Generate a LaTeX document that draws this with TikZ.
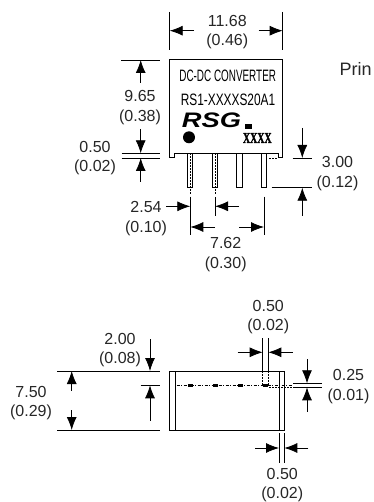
\documentclass[tikz,border=0pt]{standalone}
\usepackage{fontspec}
\usetikzlibrary{arrows.meta}
\setmainfont{Liberation Sans}
\newfontfamily\narrowfont[FakeStretch=0.6]{Liberation Sans}
\newfontfamily\partfont[FakeStretch=0.72]{Liberation Sans}
\newfontfamily\logofont[FakeStretch=1.3]{Liberation Sans}
\newfontfamily\codefont[FakeStretch=0.66,FakeBold=1.5]{Liberation Serif}
\tikzset{
  dimtext/.style={align=center,inner sep=0pt,yshift=-1.5pt,text=black!85,font=\fontsize{16}{19.5}\selectfont},
  dimarrow/.style={-{Latex[length=13pt,width=10pt]},line width=.8pt},
  dimline/.style={line width=.8pt},
  outline/.style={line width=1pt},
  hidden/.style={line width=.6pt,dash pattern=on 1.5pt off 1.5pt},
  padmark/.style={fill=black,inner sep=0pt,minimum width=5pt,minimum height=3pt}
}
\begin{document}
\begin{tikzpicture}[x=1pt,y=-1pt]
\useasboundingbox (0,0) rectangle (373,502);
%% top view, body with notched feet
\draw[outline](169.7,60)--(282.7,60)--(282.7,158)--(278.3,158)--(278.3,153.3)--(174.3,153.3)--(174.3,158)--(169.7,158)--cycle;
%% the pins
\foreach \pinx in {187.6,212.4,236.8,261.4}
  \draw[outline](\pinx,153.3) rectangle (\pinx+5.2,187.7);
\draw[hidden](190.2,153.3)--(190.2,195);
\draw[hidden](215,153.3)--(215,195);
\draw[hidden](269,158)--(277,158);
%% the marking
\node[inner sep=0pt,font=\narrowfont\fontsize{16.5}{16.5}\selectfont] (lineone) at (227.7,75.7) {DC-DC CONVERTER};
\node[inner sep=0pt,font=\partfont\fontsize{16.5}{16.5}\selectfont] (linetwo) at (228,100) {RS1-XXXXS20A1};
\node[inner sep=0pt,font=\logofont\bfseries\itshape\fontsize{21}{21}\selectfont] (logo) at (211.5,120.5) {RSG};
\fill (245,124) rectangle (252,129);
\fill (189,137.3) circle (6);
\node[inner sep=0pt,font=\codefont\bfseries\fontsize{15}{15}\selectfont] (code) at (257.3,138) {XXXX};
\node[inner sep=0pt,anchor=base west,text=black!85,font=\fontsize{18}{18}\selectfont] (prin) at (339.5,75.7) {Prin};
%% width 11.68
\draw[dimline](169.7,12)--(169.7,50);
\draw[dimline](282.7,12)--(282.7,50);
\draw[dimarrow](194,30.7)--(169.7,30.7);
\draw[dimarrow](258.7,30.7)--(282.7,30.7);
\node[dimtext] (topwidth) at (227.3,30.8) {11.68\\(0.46)};
%% height 9.65
\draw[dimline](121,60)--(160,60);
\draw[dimarrow](140.7,83)--(140.7,60);
\node[dimtext] (bodyheight) at (140,106.2) {9.65\\(0.38)};
\draw[dimarrow](140.7,129)--(140.7,153.3);
%% standoff 0.50
\draw[dimline](121.7,153.3)--(160,153.3);
\draw[dimline](121.7,158)--(160,158);
\draw[dimarrow](140.7,181.7)--(140.7,158);
\node[dimtext] (standoff) at (95,156.7) {0.50\\(0.02)};
%% pin length 3.00
\draw[dimline](292.7,158)--(311.7,158);
\draw[dimline](271.7,187.7)--(311.7,187.7);
\draw[dimarrow](302.3,128)--(302.3,158);
\draw[dimarrow](302.3,216)--(302.3,187.7);
\node[dimtext] (pinlength) at (337.5,172) {3.00\\(0.12)};
%% pitch 2.54 and span 7.62
\draw[dimline](190.3,196.7)--(190.3,235);
\draw[dimline](215,197)--(215,216);
\draw[dimline](264,196.7)--(264,235);
\draw[dimarrow](166,206.3)--(190.3,206.3);
\draw[dimarrow](239,206.3)--(215,206.3);
\node[dimtext] (pitch) at (146,217.3) {2.54\\(0.10)};
\draw[dimarrow](215,227)--(190.3,227);
\draw[dimarrow](239.3,227)--(264,227);
\node[dimtext] (span) at (225.7,253) {7.62\\(0.30)};
%% side view
\draw[outline](169.7,371) rectangle (284.3,430);
\draw[outline](175,371)--(175,430);
\draw[outline](279,371)--(279,430);
\draw[line width=.7pt,dash pattern=on 3pt off 1.5pt on 1pt off 1.5pt](176.7,385.3)--(292,385.3);
\draw[hidden](269,387.3)--(292,387.3);
\draw[hidden](262.5,371)--(262.5,385);
\draw[hidden](268.3,371)--(268.3,385);
\foreach \padx/\padname in {190/one,215.7/two,240.7/three,265.3/four}
  \node[padmark] (pad\padname) at (\padx,385.3) {};
%% thickness 7.50
\draw[dimline](57.3,371)--(160,371);
\draw[dimline](57.3,430)--(160,430);
\draw[dimarrow](71.7,390.7)--(71.7,371);
\draw[dimarrow](71.7,410)--(71.7,430);
\node[dimtext] (thickness) at (31,401.7) {7.50\\(0.29)};
%% pin row 2.00
\draw[dimline](140.7,385.3)--(160,385.3);
\draw[dimarrow](150,339)--(150,371);
\draw[dimarrow](150,420.7)--(150,385.3);
\node[dimtext] (rowpos) at (120,348.8) {2.00\\(0.08)};
%% pin width 0.50
\draw[dimline](262.7,338.3)--(262.7,371);
\draw[dimline](268.3,338.3)--(268.3,371);
\draw[dimarrow](237.7,352.3)--(262.7,352.3);
\draw[dimarrow](292.7,352.3)--(268.3,352.3);
\node[dimtext] (pinwidth) at (268.3,315.7) {0.50\\(0.02)};
%% pin thickness 0.25
\draw[dimline](293,383.3)--(321.7,383.3);
\draw[dimline](293,387.3)--(321.7,387.3);
\draw[dimarrow](307,359.3)--(307,383.3);
\draw[dimarrow](307,411.7)--(307,387.3);
\node[dimtext] (pinthick) at (348.5,385.2) {0.25\\(0.01)};
%% wall 0.50
\draw[dimline](279,433.3)--(279,462.7);
\draw[dimline](284.3,433.3)--(284.3,462.7);
\draw[dimarrow](255,448)--(279,448);
\draw[dimarrow](308.3,448)--(284.3,448);
\node[dimtext] (wall) at (282.3,483.7) {0.50\\(0.02)};
\end{tikzpicture}
\end{document}
